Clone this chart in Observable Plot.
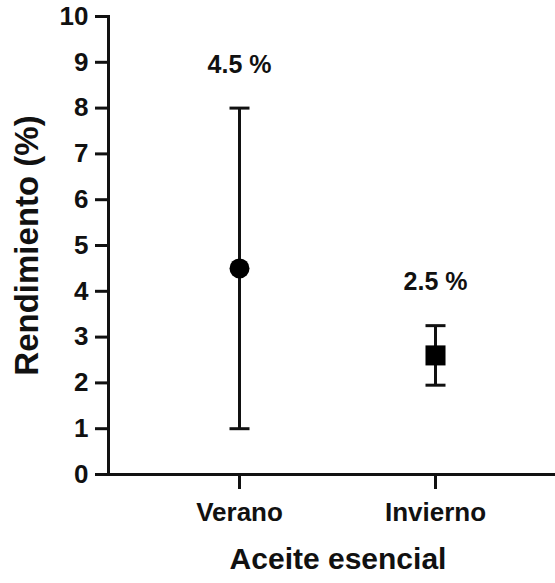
<!DOCTYPE html>
<html>
<head>
<meta charset="utf-8">
<script src="https://cdn.jsdelivr.net/npm/d3@7"></script>
<script src="https://cdn.jsdelivr.net/npm/@observablehq/plot@0.6"></script>
<style>
  html, body { margin: 0; padding: 0; background: #fff; }
  svg text { font-family: "Liberation Sans", Arial, sans-serif; font-weight: bold; }
</style>
</head>
<body>
<div id="chart"></div>
<script>
// Data
const categories = ["Verano", "Invierno"];
const means = [4.5, 2.6];
const lows = [1.0, 1.95];
const highs = [8.0, 3.25];
const symbols = ["circle", "square"];
const labels = ["4.5 %", "2.5 %"];
const labelY = [8.95, 4.2];
const yTicks = [0, 1, 2, 3, 4, 5, 6, 7, 8, 9, 10];

const rows = categories.map((c, i) => ({
  cat: c, mean: means[i], low: lows[i], high: highs[i],
  symbol: symbols[i], label: labels[i], ly: labelY[i]
}));

// horizontal cap symbol for error bars
const capSymbol = {
  draw(context, size) {
    const r = Math.sqrt(size / Math.PI);
    context.moveTo(-r, 0);
    context.lineTo(r, 0);
  }
};

const chart = Plot.plot({
  width: 555,
  height: 583,
  marginLeft: 108,
  marginRight: 0,
  marginTop: 16,
  marginBottom: 109,
  style: { fontFamily: "Liberation Sans, Arial, sans-serif", fontWeight: "bold", fontSize: "26px", color: "#111" },
  x: { type: "point", domain: categories, range: [239, 435], padding: 0 },
  y: { domain: [0, 10], ticks: yTicks },
  marks: [
    Plot.frame({ anchor: "left", stroke: "#111", strokeWidth: 3 }),
    Plot.ruleY([0], { stroke: "#111", strokeWidth: 3 }),
    Plot.axisY({ ticks: yTicks, tickSize: 13, tickPadding: 7, strokeWidth: 3, label: null, fontSize: 26, fill: "#111", stroke: "#111" }),
    Plot.axisX({ tickSize: 15, tickPadding: 13, strokeWidth: 3, label: null, fontSize: 26, fill: "#111", stroke: "#111", style: "letter-spacing: 1.4px" }),
    Plot.ruleX(rows, { x: "cat", y1: "low", y2: "high", stroke: "#111", strokeWidth: 3 }),
    Plot.dot(rows, { x: "cat", y: "low", symbol: () => capSymbol, r: 10, stroke: "#111", strokeWidth: 3 }),
    Plot.dot(rows, { x: "cat", y: "high", symbol: () => capSymbol, r: 10, stroke: "#111", strokeWidth: 3 }),
    Plot.dot(rows.filter(d => d.symbol === "circle"), { x: "cat", y: "mean", symbol: "circle", r: 10, fill: "#000", stroke: null }),
    Plot.dot(rows.filter(d => d.symbol === "square"), { x: "cat", y: "mean", symbol: "square", r: 11.3, fill: "#000", stroke: null }),
    Plot.text(rows, { x: "cat", y: "ly", text: "label", fontSize: 25, fontWeight: "bold", fill: "#111" }),
    Plot.text(["Rendimiento (%)"], { frameAnchor: "left", textAnchor: "middle", dx: -81, rotate: -90, fontSize: 33, fontWeight: "bold", fill: "#111" }),
    Plot.text(["Aceite esencial"], { frameAnchor: "bottom", textAnchor: "middle", dx: 6, dy: 94, fontSize: 30, fontWeight: "bold", fill: "#111" })
  ]
});
document.getElementById("chart").appendChild(chart);
</script>
</body>
</html>
